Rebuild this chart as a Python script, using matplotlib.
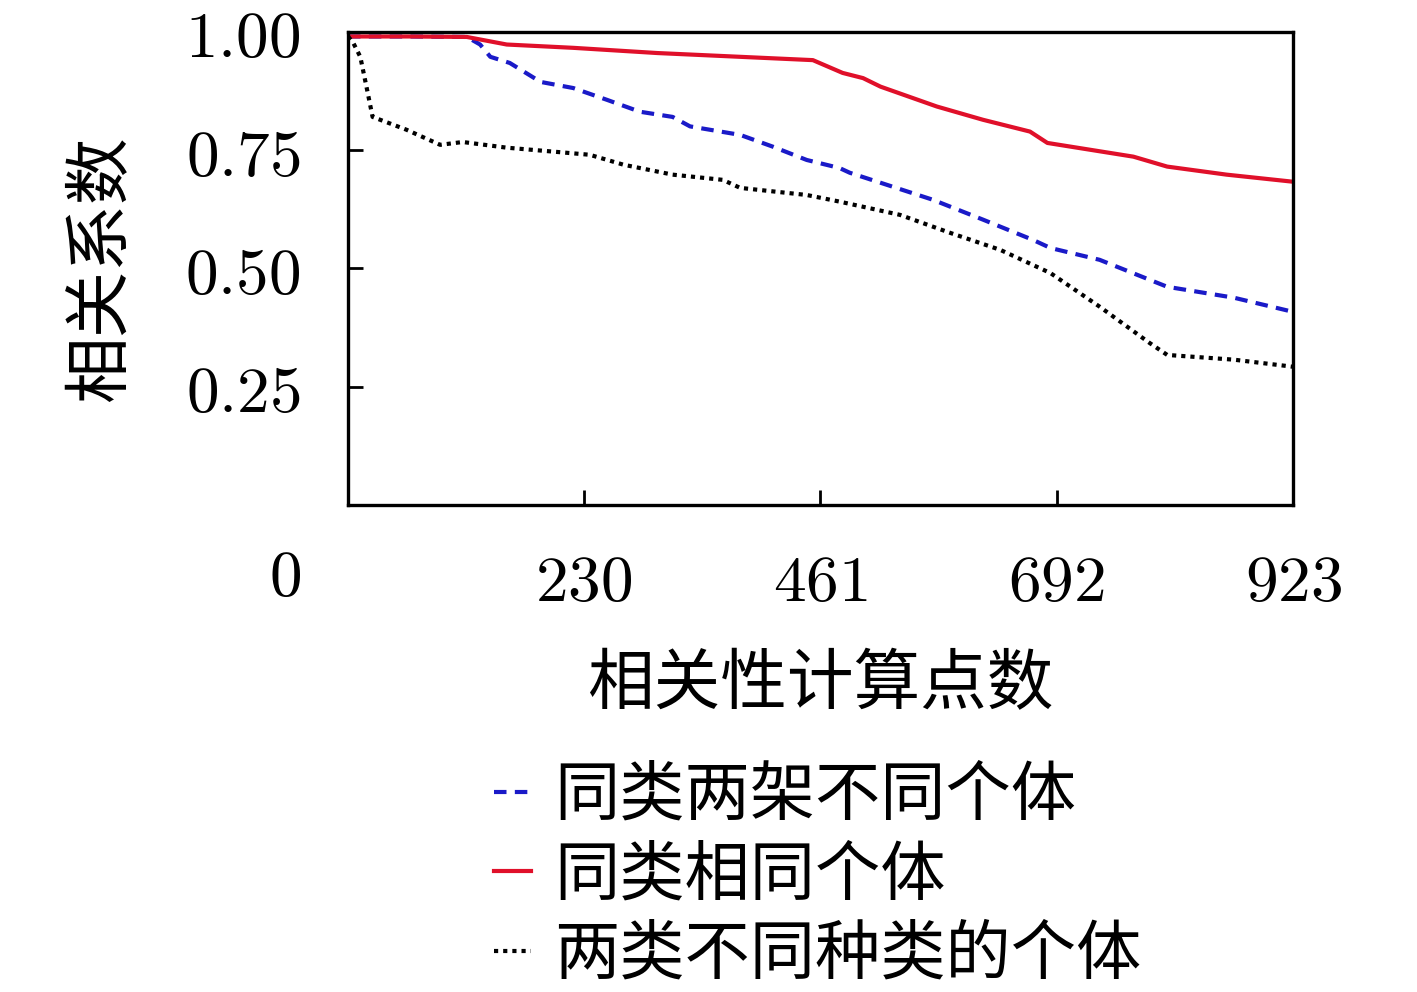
import matplotlib
matplotlib.use('Agg')
import matplotlib.pyplot as plt

plt.rcParams['font.family'] = ['Noto Sans CJK SC', 'DejaVu Sans']
plt.rcParams['mathtext.fontset'] = 'cm'

# 同类相同个体
x_same = [0, 60, 116, 155, 220, 302, 454, 483, 503, 520, 575, 620, 666, 683, 767, 800, 858, 923]
y_same = [0.990, 0.990, 0.989, 0.973, 0.966, 0.955, 0.940, 0.913, 0.902, 0.884, 0.842, 0.814, 0.789, 0.765, 0.736, 0.715, 0.698, 0.683]

# 同类两架不同个体
x_diff = [0, 60, 116, 129, 139, 158, 188, 220, 253, 285, 317, 334, 383, 415, 448, 480, 490, 571, 620, 669, 686, 734, 800, 865, 923]
y_diff = [0.990, 0.990, 0.989, 0.973, 0.947, 0.934, 0.894, 0.881, 0.856, 0.831, 0.820, 0.800, 0.782, 0.757, 0.729, 0.712, 0.702, 0.645, 0.603, 0.560, 0.543, 0.518, 0.461, 0.438, 0.408]

# 两类不同种类的个体
x_kind = [0, 5, 12, 18, 24, 57, 90, 112, 155, 204, 236, 269, 317, 366, 383, 448, 480, 539, 588, 637, 686, 734, 783, 800, 865, 923]
y_kind = [0.990, 0.977, 0.947, 0.884, 0.820, 0.793, 0.761, 0.767, 0.755, 0.746, 0.740, 0.719, 0.698, 0.687, 0.670, 0.655, 0.641, 0.613, 0.575, 0.539, 0.490, 0.419, 0.342, 0.317, 0.307, 0.292]

xticks = [230, 461, 692, 923]
yticks = [0.25, 0.50, 0.75, 1.00]

fig = plt.figure(figsize=(14.17, 9.92), dpi=100)
ax = fig.add_axes([0.2456, 0.491, 0.667, 0.477])

ax.plot(x_diff, y_diff, color='#1a1ac8', lw=3, ls=(0, (3, 2)), label='同类两架不同个体')
ax.plot(x_same, y_same, color='#e0102a', lw=3, ls='-', label='同类相同个体')
ax.plot(x_kind, y_kind, color='black', lw=3, ls=(0, (1, 1.2)), label='两类不同种类的个体')

ax.set_xlim(0, 923)
ax.set_ylim(0, 1.0)
ax.set_xticks(xticks)
ax.set_xticklabels(['$%d$' % v for v in xticks], fontsize=47)
ax.set_yticks(yticks)
ax.set_yticklabels(['$%.2f$' % v for v in yticks], fontsize=47)
ax.tick_params(direction='in', length=11, width=2, top=False, right=False)
ax.tick_params(axis='x', pad=32)
ax.tick_params(axis='y', pad=34)
for s in ax.spines.values():
    s.set_linewidth(2.4)

fig.text(285 / 1417, 1 - 578 / 992, '$0$', fontsize=47, ha='center', va='center')

ax.set_xlabel('相关性计算点数', fontsize=48, labelpad=26)
ax.set_ylabel('相关系数', fontsize=48, labelpad=36)

fig.legend(loc='upper left', bbox_to_anchor=(494 / 1417, 1 - 763 / 992), frameon=False,
           fontsize=47, handlelength=0.56, handletextpad=0.36, labelspacing=0.2,
           borderaxespad=0, borderpad=0)

fig.savefig('out.png', dpi=100)
